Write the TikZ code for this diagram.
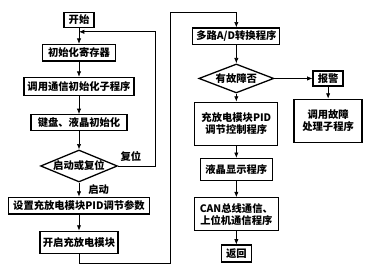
\documentclass[tikz,border=0pt]{standalone}
\usepackage{fontspec}
\setmainfont{Noto Sans CJK SC}
\usetikzlibrary{arrows.meta,positioning,shapes.geometric}

\begin{document}
\begin{tikzpicture}[font=\fontsize{8.8}{10.5}\selectfont\bfseries,node distance=5mm,
   box/.style={draw,line width=1.1pt,inner sep=1.5pt,minimum height=5mm,align=center},
   dec/.style={draw,line width=1.1pt,diamond,aspect=2.5,inner sep=0pt,align=center},
   conn/.style={-{Latex[length=1.6mm,width=1.3mm]},line width=0.6pt}]
  \useasboundingbox (0,0) rectangle (11.43,-8.34);
  % left column
  \node[box,minimum width=9mm,minimum height=4.5mm] (start) at (2.37,-0.59) {开始};
  \node[box,minimum width=22mm,below=4.8mm of start] (init) {初始化寄存器};
  \node[box,minimum width=33mm,minimum height=5.4mm,below=4.5mm of init] (comm) {调用通信初始化子程序};
  \node[box,minimum width=28.8mm,minimum height=4.8mm,below=5.4mm of comm] (kbd) {键盘、液晶初始化};
  \node[dec,minimum width=22.5mm,minimum height=9.6mm,below=5.4mm of kbd] (reset) {启动或复位};
  \node[box,minimum width=42.3mm,below=4.2mm of reset] (param) {设置充放电模块PID调节参数};
  \node[box,minimum width=23.4mm,minimum height=6.6mm,below=4.8mm of param] (open) {开启充放电模块};
  \coordinate[below=1.2mm of start] (join);
  \coordinate (rloop) at (4.65,0);
  \coordinate (botturn) at (5.1,-7.89);
  \coordinate (topturn) at (5.1,-0.36);
  % right column
  \node[box,minimum width=26.1mm] (ad) at (7.09,-1.09) {多路A/D转换程序};
  \node[dec,minimum width=22.5mm,minimum height=8.7mm,below=5.4mm of ad] (fault) {有故障否};
  \node[box,minimum width=24.9mm,minimum height=12.9mm,below=2.4mm of fault] (ctrl) {充放电模块PID\\调节控制程序};
  \node[box,minimum width=9mm,minimum height=4.5mm,right=11.4mm of fault] (alarm) {报警};
  \node[box,minimum width=20.4mm,minimum height=12.9mm,below=3.6mm of alarm] (handle) {调用故障\\处理子程序};
  \node[box,minimum width=21.6mm,minimum height=6.6mm,below=3.6mm of ctrl] (lcd) {液晶显示程序};
  \node[box,minimum width=25.2mm,minimum height=9.9mm,below=4.8mm of lcd] (can) {CAN总线通信、\\上位机通信程序};
  \node[box,minimum width=9mm,minimum height=5.1mm,below=3.9mm of can] (ret) {返回};
  % connectors
  \draw[conn] (start) -- (init);
  \draw[conn] (init) -- (comm);
  \draw[conn] (comm) -- (kbd);
  \draw[conn] (kbd) -- (reset);
  \draw[conn] (reset) -- node[right=1.5mm]{启动} (param);
  \draw[conn] (reset.east) -- node[above,pos=0.35]{复位} (reset.east -| rloop) |- (join);
  \draw[conn] (param) -- (open);
  \draw[conn] (open.south) |- (botturn) -- (topturn) -| (ad.north);
  \draw[conn] (ad) -- (fault);
  \draw[conn] (fault) -- (ctrl);
  \draw[conn] (fault) -- (alarm);
  \draw[conn] (alarm) -- (handle);
  \draw[conn] (ctrl) -- (lcd);
  \draw[conn] (lcd) -- (can);
  \draw[conn] (can) -- (ret);
\end{tikzpicture}
\end{document}
